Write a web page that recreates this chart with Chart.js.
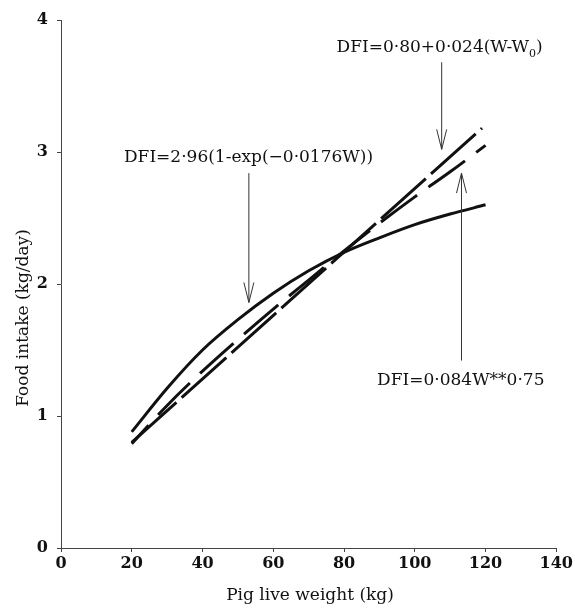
<!DOCTYPE html>
<html lang="en">
<head>
    <meta charset="UTF-8">
    <title>Pig food intake</title>
    <script src="https://cdn.jsdelivr.net/npm/chart.js"></script>
    <style>
        body { margin: 0; padding: 0; background: #fff; }
        #wrap { width: 575px; height: 611px; }
    </style>
</head>
<body>
    <div id="wrap"><canvas id="dfiChart" width="575" height="611"></canvas></div>

    <script>
        // live weight (kg)
        const weights = [20, 30, 40, 50, 60, 70, 80, 90, 100, 110, 120];
        // DFI=2.96(1-exp(-0.0176W))
        const expIntake = [0.88, 1.21, 1.50, 1.73, 1.93, 2.10, 2.24, 2.35, 2.45, 2.53, 2.60];
        // DFI=0.80+0.024(W-W0)
        const linWeights = [20, 119];
        const linIntake = [0.80, 3.18];
        // DFI=0.084W**0.75
        const powIntake = [0.79, 1.08, 1.34, 1.58, 1.81, 2.03, 2.25, 2.46, 2.66, 2.85, 3.05];

        const xTicks = [0, 20, 40, 60, 80, 100, 120, 140];
        const yTicks = [0, 1, 2, 3, 4];

        // labels + arrows: [text, textX, textY, arrowX, arrowFromY, arrowToY]
        const notes = [
            ['DFI=2·96(1-exp(−0·0176W))', 53, 2.96, 53.1, 2.84, 1.86],
            ['DFI=0·80+0·024(W-W', 107, 3.79, 107.6, 3.68, 3.02],
            ['DFI=0·084W**0·75', 113, 1.27, 113.2, 1.42, 2.84]
        ];

        const serif = '"DejaVu Serif", serif';

        const annotate = {
            id: 'annotate',
            afterDraw(chart) {
                const ctx = chart.ctx;
                const xs = chart.scales.x, ys = chart.scales.y;
                ctx.save();
                ctx.fillStyle = '#111';
                ctx.strokeStyle = '#333';
                ctx.lineWidth = 1;
                ctx.font = '17px ' + serif;
                ctx.textBaseline = 'middle';
                notes.forEach((n, i) => {
                    const tx = xs.getPixelForValue(n[1]);
                    const ty = ys.getPixelForValue(n[2]);
                    ctx.textAlign = 'center';
                    if (i === 1) {
                        // subscript 0 on W0
                        const main = n[0], tail = ')';
                        const w1 = ctx.measureText(main).width;
                        ctx.font = '11px ' + serif;
                        const w2 = ctx.measureText('0').width;
                        ctx.font = '17px ' + serif;
                        const w3 = ctx.measureText(tail).width;
                        let left = tx - (w1 + w2 + w3) / 2;
                        ctx.textAlign = 'left';
                        ctx.fillText(main, left, ty);
                        ctx.font = '11px ' + serif;
                        ctx.fillText('0', left + w1, ty + 6);
                        ctx.font = '17px ' + serif;
                        ctx.fillText(tail, left + w1 + w2, ty);
                    } else {
                        ctx.fillText(n[0], tx, ty);
                    }
                    // arrow
                    const ax = xs.getPixelForValue(n[3]);
                    const y1 = ys.getPixelForValue(n[4]);
                    const y2 = ys.getPixelForValue(n[5]);
                    const dir = y2 > y1 ? 1 : -1;
                    ctx.beginPath();
                    ctx.moveTo(ax, y1);
                    ctx.lineTo(ax, y2);
                    ctx.moveTo(ax - 5, y2 - dir * 20);
                    ctx.lineTo(ax, y2);
                    ctx.lineTo(ax + 5, y2 - dir * 20);
                    ctx.stroke();
                });

                // axis titles
                ctx.fillStyle = '#111';
                ctx.font = '17px ' + serif;
                ctx.textAlign = 'center';
                ctx.fillText('Pig live weight (kg)', 310, 596);
                ctx.translate(24, 318);
                ctx.rotate(-Math.PI / 2);
                ctx.fillText('Food intake (kg/day)', 0, 0);
                ctx.restore();
            }
        };

        const toPts = (xs, ys) => xs.map((x, i) => ({ x: x, y: ys[i] }));

        const tickFont = { family: 'DejaVu Serif', size: 16, weight: 'bold' };

        const ctx = document.getElementById('dfiChart').getContext('2d');
        new Chart(ctx, {
            type: 'line',
            data: {
                datasets: [{
                    label: 'exp',
                    data: toPts(weights, expIntake),
                    borderColor: '#111',
                    borderWidth: 3,
                    cubicInterpolationMode: 'monotone',
                    pointRadius: 0
                }, {
                    label: 'linear',
                    data: toPts(linWeights, linIntake),
                    borderColor: '#111',
                    borderWidth: 3,
                    borderDash: [60, 7],
                    pointRadius: 0
                }, {
                    label: 'power',
                    data: toPts(weights, powIntake),
                    borderColor: '#111',
                    borderWidth: 3,
                    borderDash: [45, 14],
                    borderDashOffset: 20,
                    cubicInterpolationMode: 'monotone',
                    pointRadius: 0
                }]
            },
            options: {
                responsive: false,
                animation: false,
                layout: { padding: { top: 20, right: 13, left: 0, bottom: 0 } },
                plugins: { legend: { display: false }, tooltip: { enabled: false } },
                scales: {
                    x: {
                        type: 'linear',
                        min: 0, max: 140,
                        afterBuildTicks: s => { s.ticks = xTicks.map(v => ({ value: v })); },
                        afterFit: s => { s.height = 63; },
                        grid: { display: true, drawOnChartArea: false, drawTicks: true, tickLength: 4, color: '#444' },
                        border: { color: '#444', width: 1 },
                        ticks: { color: '#111', font: tickFont, padding: 2, maxRotation: 0 }
                    },
                    y: {
                        type: 'linear',
                        min: 0, max: 4,
                        afterBuildTicks: s => { s.ticks = yTicks.map(v => ({ value: v })); },
                        afterFit: s => { s.width = 61; },
                        grid: { display: true, drawOnChartArea: false, drawTicks: true, tickLength: 4, color: '#444' },
                        border: { color: '#444', width: 1 },
                        ticks: { color: '#111', font: tickFont, padding: 9 }
                    }
                }
            },
            plugins: [annotate]
        });
    </script>
</body>
</html>
